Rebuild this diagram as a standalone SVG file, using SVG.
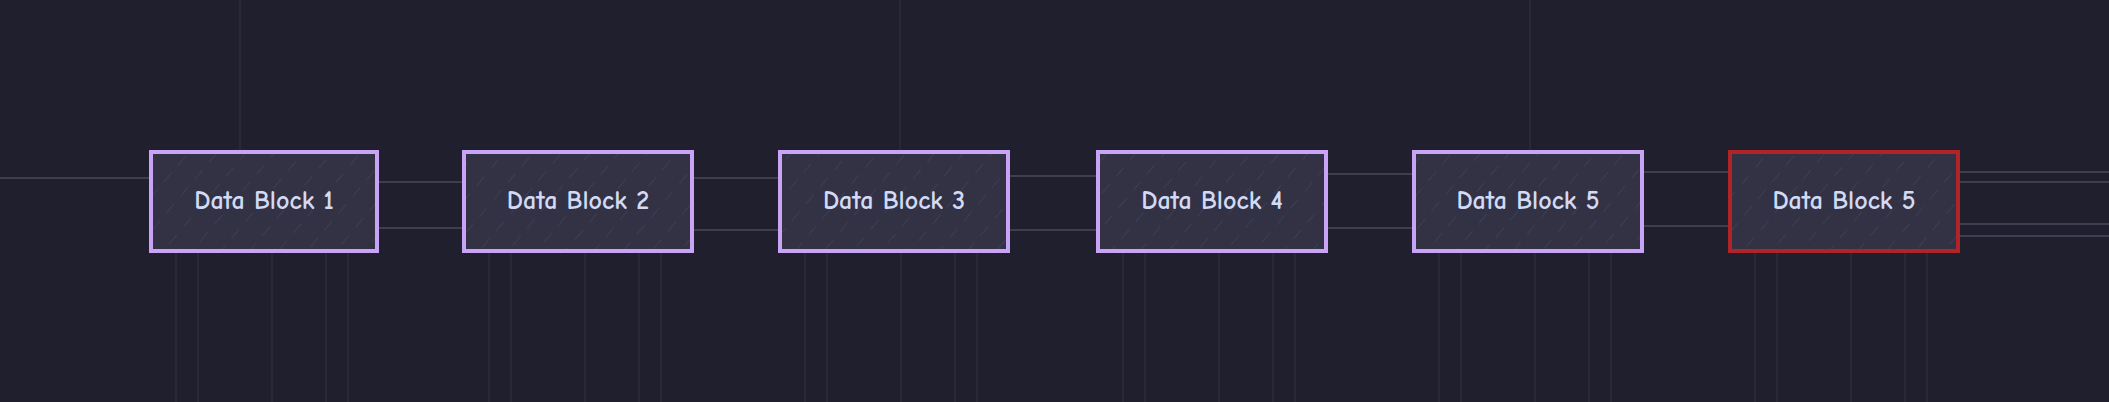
<svg xmlns="http://www.w3.org/2000/svg" width="2109" height="402" viewBox="0 0 2109 402">
<style>
.bg{fill:#1f1f2e}
.g{stroke:#2c2c3c;stroke-width:1.5;fill:none}
.h{stroke:#3e3e50;stroke-width:2;fill:none}
.box{fill:#323244;stroke:#c9a3f5;stroke-width:4}
.red{stroke:#b02326}
.hat{fill:url(#hatch)}
.t{font-family:"Comic Neue","DejaVu Sans","Liberation Sans",sans-serif;font-size:26px;font-weight:bold;fill:#d2daf5;text-anchor:middle;dominant-baseline:central}
</style>
<defs>
<pattern id="hatch" width="22" height="22" patternUnits="userSpaceOnUse" patternTransform="rotate(40)">
<line x1="0" y1="0" x2="0" y2="12" stroke="#4a4a60" stroke-width="1"/>
</pattern>
</defs>
<rect class="bg" width="2109" height="402"/>
<g id="connectors">
<path class="h" d="M0 178H151M377 182H464M377 228H464M690 178H780M690 230H780M1008 176H1098M1008 230H1098M1324 174H1414M1324 228H1414M1640 172H1730M1640 226H1730M1959 172H2109M1959 182H2109M1959 224H2109M1959 236H2109"/>
<path class="g" d="M176 252V402M198 252V402M272 252V402M326 252V402M348 252V402M489 252V402M511 252V402M585 252V402M639 252V402M661 252V402M805 252V402M827 252V402M901 252V402M955 252V402M977 252V402M1123 252V402M1145 252V402M1219 252V402M1273 252V402M1295 252V402M1439 252V402M1461 252V402M1535 252V402M1589 252V402M1611 252V402M1755 252V402M1777 252V402M1851 252V402M1905 252V402M1927 252V402M240 0V150M900 0V150M1530 0V150"/>
</g>
<g id="n1"><rect class="box" x="151" y="152" width="226" height="99"/><rect class="hat" x="153" y="154" width="222" height="95"/><text class="t" x="264" y="201">Data Block 1</text></g>
<g id="n2"><rect class="box" x="464" y="152" width="228" height="99"/><rect class="hat" x="466" y="154" width="224" height="95"/><text class="t" x="578" y="201">Data Block 2</text></g>
<g id="n3"><rect class="box" x="780" y="152" width="228" height="99"/><rect class="hat" x="782" y="154" width="224" height="95"/><text class="t" x="894" y="201">Data Block 3</text></g>
<g id="n4"><rect class="box" x="1098" y="152" width="228" height="99"/><rect class="hat" x="1100" y="154" width="224" height="95"/><text class="t" x="1212" y="201">Data Block 4</text></g>
<g id="n5"><rect class="box" x="1414" y="152" width="228" height="99"/><rect class="hat" x="1416" y="154" width="224" height="95"/><text class="t" x="1528" y="201">Data Block 5</text></g>
<g id="n6"><rect class="box red" x="1730" y="152" width="228" height="99"/><rect class="hat" x="1732" y="154" width="224" height="95"/><text class="t" x="1844" y="201">Data Block 5</text></g>
</svg>
